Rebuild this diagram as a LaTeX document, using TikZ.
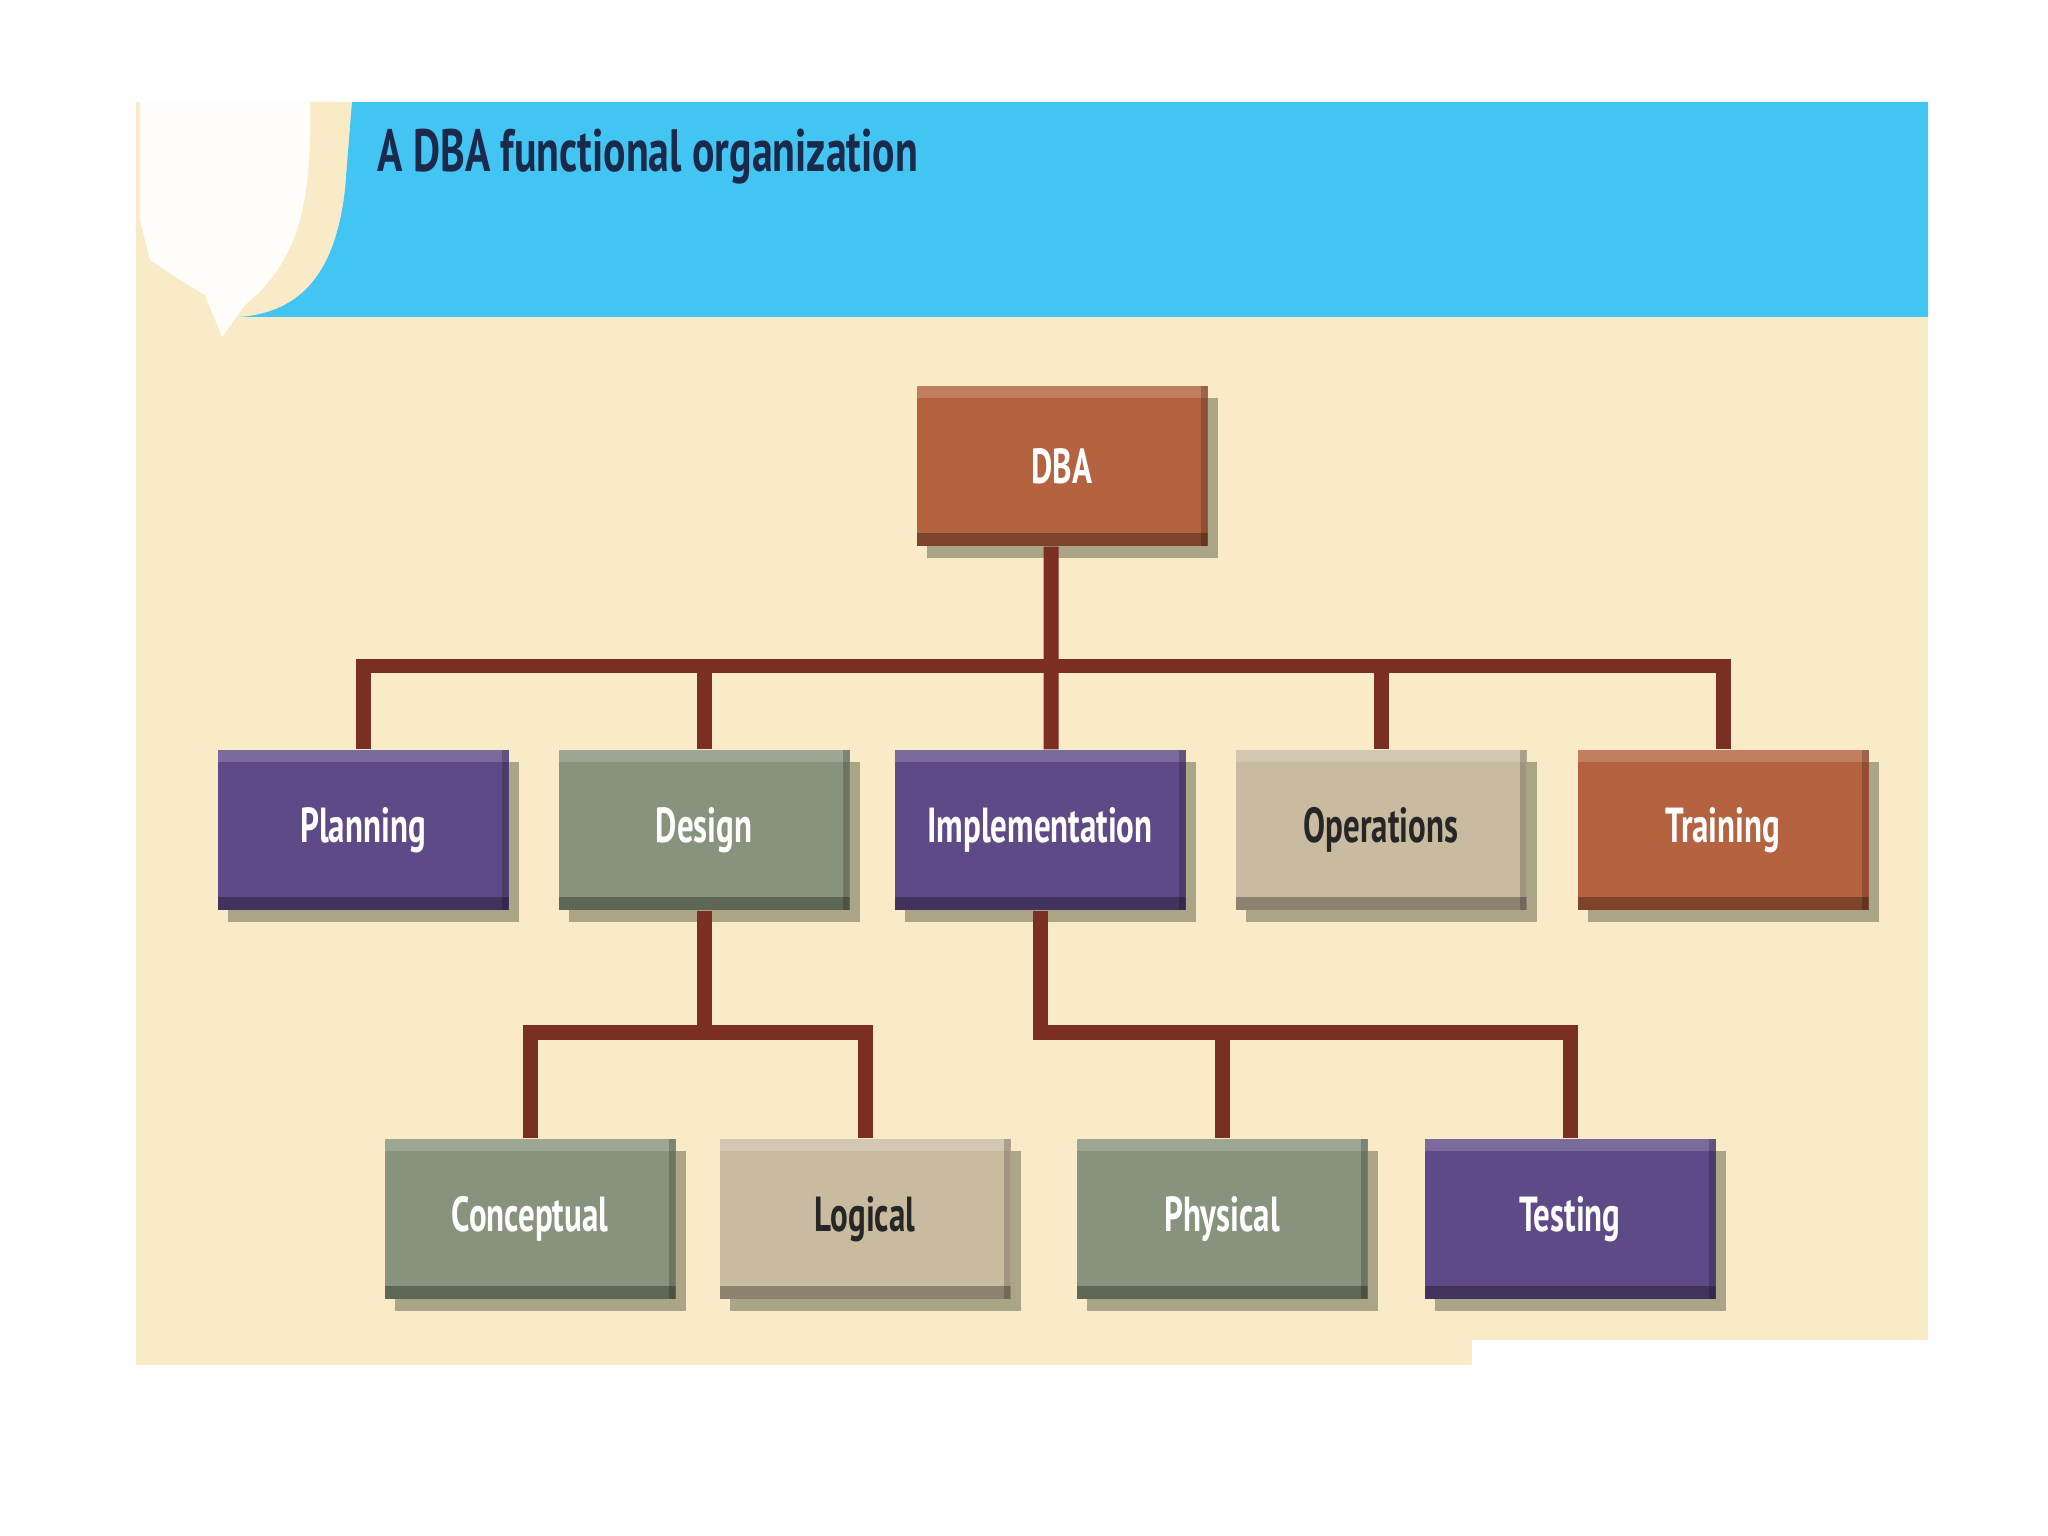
\documentclass[tikz,border=0pt]{standalone}
\usepackage{fontspec}
\setmainfont{PT Sans}
\newfontfamily\titlefont[FakeStretch=0.70]{PT Sans}
\newfontfamily\boxfont[FakeStretch=0.67]{PT Sans}
\usetikzlibrary{shadows}
\definecolor{cream}{HTML}{FAEBC8}
\definecolor{skyblue}{HTML}{42C5F2}
\definecolor{titlenavy}{HTML}{1B2A4A}
\definecolor{rustbox}{HTML}{B4623F}
\definecolor{purplebox}{HTML}{5E4A87}
\definecolor{sagebox}{HTML}{87937C}
\definecolor{tanbox}{HTML}{C9BBA0}
\definecolor{linkred}{HTML}{7B2E22}
\definecolor{shadowtan}{HTML}{ABA588}
\tikzset{
  unit/.style={minimum width=2.91cm, minimum height=1.6cm, inner sep=0pt,
    font=\boxfont\bfseries\fontsize{14}{16}\selectfont, text=white,
    drop shadow={shadow xshift=0.1cm, shadow yshift=-0.12cm, fill=shadowtan, opacity=1},
    path picture={
      \fill[white, opacity=.18] (path picture bounding box.north west) rectangle ([yshift=-0.12cm]path picture bounding box.north east);
      \fill[black, opacity=.3] (path picture bounding box.south west) rectangle ([yshift=0.13cm]path picture bounding box.south east);
      \fill[black, opacity=.2] (path picture bounding box.south east) rectangle ([xshift=-0.07cm]path picture bounding box.north east);
    }},
  rustunit/.style={unit, fill=rustbox},
  purpleunit/.style={unit, fill=purplebox},
  sageunit/.style={unit, fill=sagebox},
  tanunit/.style={unit, fill=tanbox, text=black!85},
  link/.style={draw=linkred, line width=0.15cm},
}
\begin{document}
\begin{tikzpicture}[line join=miter]
\useasboundingbox (0,0) rectangle (20.48,-15.36);
\fill[white] (0,0) rectangle (20.48,-15.36);
% panel and header
\fill[cream] (1.36,-1.02) rectangle (19.28,-13.65);
\fill[skyblue] (3.52,-1.02) -- (3.45,-1.9) .. controls (3.35,-2.75) and (3.0,-3.12) .. (2.40,-3.17) -- (19.28,-3.17) -- (19.28,-1.02) -- cycle;
\fill[white, opacity=.9] (1.40,-1.02) -- (3.10,-1.02) .. controls (3.12,-2.0) and (3.0,-2.6) .. (2.45,-3.05) -- (2.22,-3.37) -- (2.05,-2.95) .. controls (1.8,-2.8) .. (1.5,-2.6) -- (1.40,-2.2) -- cycle;
\fill[white] (14.72,-13.40) rectangle (19.30,-13.67);
\node[anchor=base west, text=titlenavy, font=\titlefont\bfseries\fontsize{17}{20}\selectfont] (title) at (3.65,-1.72) {A DBA functional organization};
% boxes
\path (10.62,-4.66) node[rustunit] (dba) {DBA};
\path (3.63,-8.30) node[purpleunit] (plan) {Planning}
      (7.04,-8.30) node[sageunit] (design) {Design}
      (10.40,-8.30) node[purpleunit] (impl) {Implementation}
      (13.81,-8.30) node[tanunit] (oper) {Operations}
      (17.23,-8.30) node[rustunit] (train) {Training};
\path (5.30,-12.19) node[sageunit] (concept) {Conceptual}
      (8.65,-12.19) node[tanunit] (logic) {Logical}
      (12.22,-12.19) node[sageunit] (phys) {Physical}
      (15.70,-12.19) node[purpleunit] (test) {Testing};
% connectors
\coordinate (topbus) at (0,-6.66);
\coordinate (lowbus) at (0,-10.32);
\draw[link] ([xshift=-0.11cm]dba.south) -- ([xshift=0.11cm]impl.north);
\draw[link] (plan.north) -- (plan.north |- topbus) -- (train.north |- topbus) -- (train.north);
\foreach \n in {design,oper} \draw[link] (\n.north) -- (\n.north |- topbus);
\draw[link] (design.south) -- (design.south |- lowbus);
\draw[link] (concept.north) -- (concept.north |- lowbus) -- (logic.north |- lowbus) -- (logic.north);
\draw[link] (impl.south) -- (impl.south |- lowbus) -- (test.north |- lowbus) -- (test.north);
\draw[link] (phys.north) -- (phys.north |- lowbus);
\end{tikzpicture}
\end{document}
